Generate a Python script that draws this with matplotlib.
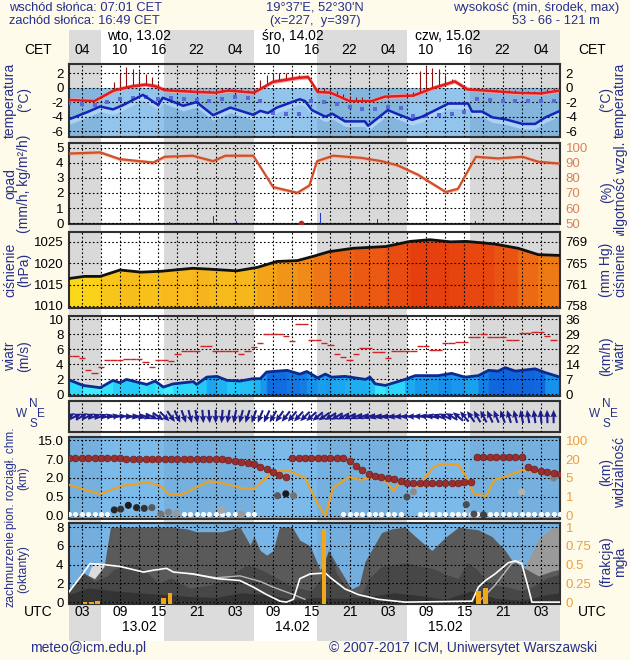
import numpy as np
import matplotlib
matplotlib.use('Agg')
import matplotlib.pyplot as plt
from matplotlib.colors import LinearSegmentedColormap, Normalize

plt.rcParams['font.family'] = ['Liberation Sans Narrow', 'Liberation Sans', 'DejaVu Sans']
plt.rcParams['font.size'] = 9

# time axis: hours from 13.02 00 UTC
nights = [(1, 6.02), (15.82, 30.02), (39.82, 54.02), (63.82, 78)]
cet_labels = ['04', '10', '16', '22'] * 3 + ['04']
utc_labels = ['03', '09', '15', '21'] * 3 + ['03']
day_names = ['wto, 13.02', 'śro, 14.02', 'czw, 15.02']
day_dates = ['13.02', '14.02', '15.02']

# temperature
temp_t = [0, 1, 5, 8, 11, 13, 14.5, 16, 21, 24, 26, 30, 33, 37, 38.5, 40, 42, 45, 48.5, 50.5,
          55, 58, 61.5, 63.5, 67, 71, 75, 78]
temp = [-1.7, -1.7, -1.85, -0.4, 0.2, 0.4, 0.2, -0.35, -0.6, -0.7, -0.4, -0.7, 0.8, 1.35, 1.45, -0.6,
        -0.7, -1.85, -1.85, -1.25, -1.1, -0.1, 0.85, -0.25, -0.45, -0.7, -0.8, -0.4]
dew_t = [0, 1.2, 3.8, 5.9, 7.9, 9.5, 12.6, 15, 15.7, 18.9, 21, 23.6, 26.3, 29.9, 31, 32.2, 33.6, 37.2,
         38, 39.1, 41.2, 42.3, 44.3, 47.4, 47.9, 51, 54.8, 56.4, 60.5, 63.6, 64.2, 65.8, 67.4, 69.4,
         72.1, 74.1, 75.7, 78]
dew = [-4.3, -4.3, -3.4, -2.6, -3.0, -2.4, -1.0, -2.4, -1.4, -2.5, -2.0, -3.8, -2.75, -3.75, -3.2, -3.5,
       -2.75, -1.6, -1.85, -3.1, -4.0, -3.6, -4.65, -4.65, -5.25, -3.1, -4.45, -4.0, -2.2, -2.2, -3.3,
       -3.3, -4.1, -4.35, -5.0, -5.0, -4.1, -3.2]
spike_t = list(range(8, 48)) + list(range(55, 78))
spike_top = [0.8, 1.9, 2.85, 2.6, 2.3, 1.9, 1.5, 0.6,
             -0.1, -0.1, -0.2, -0.2, -0.2, -0.3, -0.3, -0.3, -0.3, 0.0, -0.1, -0.2, -0.2, -0.3,
             0.0, 1.0, 1.8, 2.0, 2.0, 2.0, 1.9, 1.8,
             1.6, 0.9, 0.0, -0.1, -0.2, -0.5, -0.9, -1.2, -1.3, -1.3,
             -0.6, 2.3, 2.9, 2.7, 2.5, 1.8, 1.2,
             0.5, 0.0, -0.1, -0.1, -0.2, -0.2, -0.2, -0.3, -0.3, -0.3, -0.4, -0.4, -0.4, -0.3, -0.2, -0.1]
dot_t = list(range(1, 79, 2))
dot_v = [-2.1, -2.3, -2.4, -2.0, -1.6, -1.4, -1.3, -1.5, -1.4, -1.6, -1.7, -1.9, -1.5, -1.3, -1.4,
         -1.9, -3.5, -3.7, -3.6, -1.9, -2.0, -2.3, -2.7, -3.0, -2.9, -2.7, -2.8, -3.9, -3.9, -3.8,
         -3.6, -3.4, -1.6, -1.7, -1.8, -1.8, -1.9, -1.9, -1.8]

# precipitation / humidity
rh_t = [0, 0.9, 5.9, 9, 14.2, 16, 20.4, 23.6, 25.5, 29.9, 33, 36.8, 38.7, 39.9, 42.4, 46.8, 50, 52.5,
        55.7, 60.1, 62, 64.8, 68.3, 72.1, 74.6, 78]
rh = [96, 96, 96.8, 92.3, 90.1, 93.9, 94.6, 91, 94.6, 94.6, 73.9, 70.1, 75, 91, 94.6, 93.2, 91, 88.3,
      82.1, 70.6, 72.8, 93.9, 92.8, 93.9, 90.6, 89.4]
rain_t = [16.7, 23.6, 27.3, 40.5, 49.4, 64.8]
rain = [0.1, 0.5, 0.15, 0.7, 0.25, 0.15]

# pressure
p_t = [0.5, 3.4, 5.9, 9, 12.3, 15.4, 20.4, 23, 27.3, 30.5, 33.6, 36.8, 39.3, 41.8, 45.6, 50.7, 54.5,
       57.6, 60.8, 63.3, 67.7, 71.4, 74.6, 78.2]
p = [1016.3, 1016.9, 1016.9, 1018.4, 1017.9, 1018.1, 1018.8, 1018.6, 1018.2, 1019.0, 1020.4, 1020.6,
     1021.6, 1022.7, 1023.5, 1023.9, 1025.1, 1025.5, 1025.0, 1025.1, 1024.5, 1023.5, 1022.0, 1021.8]

# wind
ws_t = [0, 1.2, 3.2, 5.9, 7.9, 9, 10, 12.1, 13.2, 14.5, 15.8, 17.3, 20.5, 21, 22.6, 24.2, 25.8, 27.8,
        29.9, 31, 32, 35.2, 37.2, 38.3, 40, 41.2, 42.2, 44.3, 47.5, 48.2, 49, 50.6, 53.7, 55.3, 58.9,
        61, 63.1, 65.2, 66.8, 68.3, 69.4, 71, 74.1, 75.7, 78]
ws = [1.9, 1.87, 1.2, 0.9, 1.87, 1.56, 2.0, 1.56, 1.33, 1.78, 0.98, 1.4, 1.7, 1.33, 2.3, 2.4, 1.87,
      1.78, 2.1, 2.1, 2.98, 3.2, 2.7, 3.05, 2.2, 2.7, 2.3, 2.4, 2.0, 2.3, 1.42, 1.2, 2.0, 2.5, 2.5,
      2.8, 2.3, 2.5, 3.2, 3.1, 3.56, 3.1, 3.4, 2.9, 2.3]
gust_t = list(range(1, 78))
gust = [5.1, 5.1, 4.8, 3.2, 2.9, 3.7, 4.6, 4.6, 4.6, 4.75,
        4.75, 4.7, 4.3, 3.7, 4.6, 4.6, 4.5, 5.4, 5.8, 5.8,
        5.8, 6.4, 6.4, 5.8, 5.8, 5.8, 5.8, 5.3, 5.8, 6.3,
        6.8, 8.0, 8.0, 8.0, 7.8, 7.1, 9.3, 9.3, 7.2, 7.2,
        6.8, 6.6, 5.4, 5.0, 4.6, 5.4, 6.2, 6.2, 5.6, 5.6,
        4.8, 5.8, 5.8, 5.8, 5.8, 6.4, 6.4, 5.9, 5.9, 6.8,
        6.8, 7.0, 7.0, 7.6, 7.6, 8.0, 7.6, 7.6, 7.6, 7.2,
        7.2, 8.2, 8.2, 8.3, 8.3, 7.8, 7.2]
wdir_t = list(range(1, 78))
wdir = [240, 245, 240, 245, 250, 250, 255, 260, 265, 275, 280, 285, 290, 295, 305, 315, 325, 335, 340,
        345, 350, 355, 355, 0, 5, 10, 12, 15, 18, 20, 22, 25, 30, 35, 38, 40, 42, 45, 48, 50, 55, 58,
        60, 62, 65, 68, 70, 72, 75, 78, 80, 82, 85, 88, 90, 95, 100, 105, 110, 115, 120, 130, 140,
        145, 150, 152, 155, 158, 160, 163, 165, 168, 170, 172, 175, 178, 180]

# cloud heights (km) and visibility (km)
h_ticks = [0, 0.5, 2, 7, 15]
v_ticks = [0, 1, 5, 20, 100]
top_t = list(range(1, 79))
top_h = [7.3] * 9 + [7.1] * 10 + [7.0] * 6 + \
        [6.8, 6.6, 6.3, 6.0, 5.6, 5.0, 4.4, 3.6, 2.8, 2.3] + [7.4] * 9 + \
        [6.6, 5.2, 4.0, 3.0, 2.6, 2.3, 2.0, 1.9, 1.8] + [1.6] * 9 + [1.7, 1.7] + \
        [8.0] * 8 + [4.8, 4.3, 3.9, 3.5, 3.2, 3.0]
low_t = [8.1, 9.1, 10.3, 11.6, 12.8, 14, 15.4, 16.6, 17.8, 24.9, 28, 33.7, 35, 36.2, 54, 55, 63.3,
         64.5, 66, 72, 77]
low_h = [0.16, 0.18, 0.28, 0.22, 0.2, 0.22, 0.05, 0.1, 0.07, 0.15, 0.05, 0.6, 0.75, 0.6, 0.5, 0.9,
         0.3, 0.05, 0.03, 0.9, 2.0]
low_grey = [0.15, 0.2, 0.1, 0.15, 0.2, 0.35, 0.45, 0.5, 0.6, 0.65, 0.6, 0.35, 0.1, 0.45, 0.3, 0.55,
            0.3, 0.3, 0.25, 0.7, 0.5]
fog_dot_t = list(range(1, 8)) + list(range(19, 31)) + list(range(44, 54)) + list(range(56, 79))
fog_dot_h = 0.06
vis_t = [0.9, 5.9, 9.1, 13.4, 15.4, 16.6, 18.5, 22.9, 25.5, 28, 29.9, 33, 35.5, 38, 39.9, 41.2, 42.4,
         44.9, 46.8, 48.7, 50.6, 51.9, 53.1, 54.4, 55.7, 58.2, 59.5, 62, 63.3, 64.5, 66.4, 67.7, 69.6,
         72.1, 74.6, 78.2]
vis = [3.6, 1.6, 3.3, 4.1, 3.3, 1.6, 1.4, 4.3, 3.8, 2.9, 2.6, 10, 10.7, 5, 0.7, 0.0, 2.9, 5.8, 4.6,
       6.2, 4.6, 2.2, 4.6, 3.6, 3.3, 13.7, 16.3, 15.5, 6.2, 1.6, 1.2, 4.6, 6.5, 11.3, 9.2, 6.5]

# cloud cover (octants) and fog fraction
cc_t = [1, 3, 5, 6.5, 7.5, 10, 14, 17, 19.5, 21, 25, 27.8, 29.4, 30, 31, 32, 33, 34, 36, 37.2, 38.8,
        40.4, 41.7, 43, 45.3, 46.5, 47.4, 50, 51.6, 53.7, 55.8, 57.9, 60, 62.1, 65.2, 67.3, 69.4,
        70.4, 72.5, 74.6, 76.7, 78]
cc = [1.0, 3.2, 2.5, 3.8, 8.0, 8.0, 8.0, 8.0, 7.8, 7.5, 7.5, 8.0, 6.1, 7.0, 5.5, 5.0, 5.5, 8.0, 8.0,
      6.6, 6.0, 3.4, 5.5, 4.0, 1.4, 1.8, 4.3, 7.4, 7.8, 8.0, 6.7, 5.5, 6.9, 8.0, 7.7, 7.0, 5.5, 4.5,
      3.6, 2.8, 3.3, 3.5]
mid_t = [1, 3, 5, 7, 8, 10, 12, 13.5, 15, 17, 18.5, 20, 23, 25, 27, 29, 31, 33, 35, 37, 39, 40.5,
         41.7, 43, 45, 47, 48, 50, 52, 54, 56, 58, 60, 62, 63.5, 65, 66.5, 68, 70, 72, 74, 76, 78]
mid = [1.0, 3.2, 2.2, 2.8, 3.5, 4.0, 3.8, 3.0, 2.0, 2.6, 2.0, 1.5, 1.8, 2.2, 3.2, 4.0, 3.5, 2.8, 2.0,
       1.5, 1.2, 2.5, 5.5, 3.0, 1.2, 1.0, 2.5, 3.8, 4.0, 4.2, 3.8, 3.6, 3.0, 2.5, 4.2, 3.5, 2.2, 1.8,
       1.6, 1.2, 1.8, 2.6, 3.0]
lowc_t = [1, 4, 8, 12, 16, 20, 24, 28, 32, 36, 40, 44, 48, 52, 56, 60, 64, 68, 72, 76, 78]
lowc = [0.8, 1.5, 1.2, 1.0, 0.8, 0.6, 0.5, 1.0, 0.8, 0.3, 0.5, 0.4, 0.6, 1.0, 0.7, 0.3, 1.2, 0.4,
        0.2, 0.8, 1.0]
hi_t = [68, 70, 72.5, 74.6, 76.7, 78]
hi = [0, 2.0, 3.8, 6.7, 7.9, 8.0]
light_t = [3.5, 4.5, 5.5, 6.5, 7.2]
light = [2.0, 3.8, 4.2, 4.0, 3.0]
wline_t = [0.9, 2.7, 4.3, 6.4, 9, 12.7, 14.2, 16.3, 17.4, 20.5, 24.2, 27.8, 29.9, 32, 34.1, 35.1,
           36.2, 37.2, 38.8, 41.2, 42.2, 44.3, 46.4, 49.5, 53.7, 64.2, 65.2, 66.3, 67.8, 69.9, 71,
           72, 73, 73.6, 78]
wline = [1.0, 2.6, 4.1, 4.0, 3.8, 3.2, 3.4, 3.6, 3.2, 3.0, 2.5, 2.3, 1.6, 0.8, 0.1, 0.0, 0.3, 2.5,
         3.0, 3.1, 2.5, 1.4, 0.8, 0.3, 0.0, 0.1, 1.6, 2.3, 3.0, 4.2, 4.4, 4.1, 1.6, 0.0, 0.0]
gline_t = [20, 24.2, 27.8, 31, 33, 36.2, 38, np.nan, 65.2, 67.8, 70.4, 72]
gline = [3.0, 2.6, 2.8, 2.2, 1.6, 0.8, 0.3, np.nan, 0.0, 1.8, 4.1, 4.5]
fog_t = [3.5, 4.5, 5.5, 15.8, 16.8, 41.0, 65.2, 66.3]
fog = [0.03, 0.03, 0.04, 0.08, 0.15, 1.0, 0.17, 0.21]

# ---------------------------------------------------------------
BG = '#fffbea'
NAVY = '#26308c'
NIGHT = '#d9d9d9'
ORANGE = '#e8a040'
T0, T1 = 1, 78
grid_hours = np.arange(3, 78, 3)

fig = plt.figure(figsize=(6.3, 6.6), dpi=100, facecolor=BG)


def px_axes(x0, y0, x1, y1):
    return fig.add_axes([x0 / 630, 1 - y1 / 660, (x1 - x0) / 630, (y1 - y0) / 660])


def ftext(x, y, s, **kw):
    kw.setdefault('va', 'center')
    fig.text(x / 630, 1 - y / 660, s, **kw)


def panel(y0, y1, ylim, ticks=(), labels=(), rlabels=(), rcolor='black', bg='white',
          night=(NIGHT, 1.0)):
    ax = px_axes(69, y0, 560, y1)
    ax.set_facecolor(bg)
    ax.set_xlim(T0, T1)
    ax.set_ylim(*ylim)
    for a, b in nights:
        ax.axvspan(a, b, color=night[0], alpha=night[1], lw=0, zorder=0)
    ax.set_xticks(grid_hours)
    ax.set_yticks(ticks)
    ax.set_yticklabels(labels)
    ax.grid(True, color='black', ls=(0, (1.5, 2)), lw=0.8)
    ax.set_axisbelow(False)
    ax.tick_params(length=0, labelbottom=False, labelsize=9.5, pad=4)
    for s in ax.spines.values():
        s.set_linewidth(1.5)
        s.set_color('#303030')
    if len(rlabels):
        r = ax.twinx()
        r.set_ylim(*ylim)
        r.set_yticks(ticks)
        r.set_yticklabels(rlabels, color=rcolor)
        r.tick_params(length=0, labelsize=9.5, pad=4)
        for s in r.spines.values():
            s.set_visible(False)
    return ax


def coloured_fill(ax, xs, ys, floor, cmap, norm):
    for i in range(len(xs) - 1):
        c = cmap(norm((ys[i] + ys[i + 1]) / 2))
        ax.fill_between(xs[i:i + 2], floor, ys[i:i + 2], facecolor=c, edgecolor=c, lw=0.6, zorder=1)


# background column with day / night blocks and time strips
bg = px_axes(69, 30, 560, 641)
bg.set_xlim(T0, T1)
bg.set_ylim(641, 30)
bg.set_facecolor('white')
for a, b in nights:
    bg.axvspan(a, b, color='#dcdcdc', lw=0)
bg.set_xticks([])
bg.set_yticks([])
for s in bg.spines.values():
    s.set_visible(False)
lab_t = np.arange(3, 78, 6)
for t, c, u in zip(lab_t, cet_labels, utc_labels):
    bg.text(t, 50.5, c, ha='center', va='center', fontsize=10)
    bg.text(t, 612, u, ha='center', va='center', fontsize=10)
for t, s in zip([7, 31.2, 55.2], day_names):
    bg.text(t, 36, s, ha='left', va='center', fontsize=10)
for t, s in zip([12, 36, 60], day_dates):
    bg.text(t, 627, s, ha='center', va='center', fontsize=10)

# temperature
ax = panel(64, 137, (-6.8, 3.25), [2, 0, -2, -4, -6], ['2', '0', '-2', '-4', '-6'],
           ['2', '0', '-2', '-4', '-6'])
ax.axhspan(-6.8, 0, color='#4a9de0', alpha=0.6, lw=0, zorder=0.5)
ax.fill_between(dew_t, np.array(dew) - 0.7, dew, color='#b6daf8', alpha=0.8, lw=0, zorder=1)
ax.fill_between(temp_t, np.array(temp) - 0.25, np.array(temp) + 0.35, color='#f5a0a0', lw=0, zorder=1)
base = np.interp(spike_t, temp_t, temp)
ax.vlines(spike_t, base, np.maximum(base, spike_top), color='#8a1010', lw=0.8, zorder=2.6)
ax.scatter(dot_t, dot_v, s=5, marker='s', color='#5a68d8', lw=0, zorder=3)
ax.plot(temp_t, temp, color='#e01c1c', lw=1.8, zorder=3)
ax.plot(dew_t, dew, color='#1424b8', lw=1.8, zorder=3)

# precipitation and humidity
ax = panel(143, 224, (-0.05, 5.3), [0, 1, 2, 3, 4, 5], ['0', '1', '2', '3', '4', '5'],
           ['50', '60', '70', '80', '90', '100'], rcolor='#d98060')
rh_s = (np.array(rh) - 50) / 10
ax.fill_between(rh_t, rh_s - 0.12, rh_s + 0.12, color='#f4b090', alpha=0.7, lw=0, zorder=1)
ax.plot(rh_t, rh_s, color='#d0502c', lw=1.6, zorder=3)
ax.bar(rain_t, rain, width=0.18, color='#1838c8', zorder=3)
ax.plot([37.4], [0.02], 'o', ms=3, color='#c02020', zorder=4)

# pressure
ax = panel(232, 308, (1009.5, 1027.3), [1010, 1015, 1020, 1025], ['1010', '1015', '1020', '1025'],
           ['758', '761', '765', '769'])
pcmap = LinearSegmentedColormap.from_list('p', ['#fbd81a', '#f6b41c', '#f08c18', '#ec6014', '#e63c0e'])
coloured_fill(ax, p_t, p, 1009.5, pcmap, Normalize(1016.5, 1025.5))
ax.plot(p_t, p, color='#101010', lw=2, zorder=3)

# wind
ax = panel(316, 396, (-0.2, 10.4), [0, 2, 4, 6, 8, 10], ['0', '2', '4', '6', '8', '10'],
           ['0', '7', '14', '22', '29', '36'])
wcmap = LinearSegmentedColormap.from_list('w', ['#3ceeff', '#22c4f6', '#1898ec', '#1064dc'])
coloured_fill(ax, ws_t, ws, -0.2, wcmap, Normalize(1.2, 3.2))
ax.plot(ws_t, ws, color='#0c2a90', lw=2, zorder=3)
gt = np.array(gust_t)
ax.hlines(gust, gt - 0.5, gt + 0.5, color='#d42020', lw=1, zorder=3)

# wind direction arrows
ax = panel(401, 432, (0, 1))
ang = np.radians(270 - np.array(wdir))
ax.quiver(wdir_t, np.full(len(wdir_t), 0.5), np.cos(ang), np.sin(ang), angles='uv', pivot='middle',
          scale_units='inches', scale=7.5, width=0.0042, headwidth=3.2, headlength=3.6,
          headaxislength=3.2, color='#1c1c8c', zorder=3)

# cloud heights and visibility
ax = panel(437, 519, (-0.16, 4.16), [0, 1, 2, 3, 4], ['0.0', '0.5', '2.0', '7.0', '15.0'],
           ['0', '1', '5', '20', '100'], rcolor=ORANGE, bg='#7cbaea', night=('#000000', 0.05))
hpos = lambda h: np.interp(h, h_ticks, [0, 1, 2, 3, 4])
ax.plot(vis_t, np.interp(vis, v_ticks, [0, 1, 2, 3, 4]), color='#f0a020', lw=1.5, zorder=3)
ax.scatter(fog_dot_t, hpos(np.full(len(fog_dot_t), fog_dot_h)), s=14, color='#f4f8ff', lw=0, zorder=4)
ax.scatter(low_t, hpos(low_h), s=26, c=[str(g) for g in low_grey], lw=0, zorder=4)
ax.scatter(top_t, hpos(top_h), s=24, color='#9b2d2d', edgecolor='#6a2020', lw=0.5, zorder=4)

# cloud cover and fog
ax = panel(523, 604, (-0.2, 8.43), [0, 2, 4, 6, 8], ['0', '2', '4', '6', '8'],
           ['0', '0.25', '0.5', '0.75', '1'], rcolor=ORANGE, bg='#78b6e8', night=('#000000', 0.04))
ax.fill_between(hi_t, 0, hi, color='#9a9a9a', lw=0, zorder=1)
ax.fill_between(light_t, 0, light, color='#dcdcdc', lw=0, zorder=1)
ax.fill_between(cc_t, 0, cc, color='#5a5a5a', lw=0, zorder=1.1)
ax.fill_between(mid_t, 0, mid, color='#474747', lw=0, zorder=1.2)
ax.fill_between(lowc_t, 0, lowc, color='#333333', lw=0, zorder=1.3)
ax.plot(gline_t, gline, color='#b8b8b8', lw=1, zorder=3)
ax.plot(wline_t, wline, color='white', lw=1.2, zorder=3)
ax.bar(fog_t, np.array(fog) * 8, width=0.7, bottom=-0.2, color='#f0a818', zorder=3.5)

# side labels
left = [(100, 'temperatura\n(°C)', 10), (184, 'opad\n(mm/h, kg/m²/h)', 10), (270, 'ciśnienie\n(hPa)', 10),
        (356, 'wiatr\n(m/s)', 10), (478, 'pion. rozciągł. chm.\n(km)', 8.5),
        (569, 'zachmurzenie\n(oktanty)', 8.8)]
right = [(100, '(°C)\ntemperatura'), (270, '(mm Hg)\nciśnienie'),
         (356, '(km/h)\nwiatr'), (472, '(km)\nwidzialność'), (562, '(frakcja)\nmgła')]
for y, s, fs in left:
    ftext(17, y, s, rotation=90, ha='center', color=NAVY, fontsize=fs, linespacing=1.0,
          multialignment='center')
for y, s in right:
    ftext(613, y, s, rotation=90, ha='center', color=NAVY, fontsize=10, linespacing=1.0,
          multialignment='center')
# humidity label is cut off at the panel top, as in the original
hum = px_axes(598, 143, 630, 236)
hum.axis('off')
hum.text(0.5, 0.47, '(%)\nwilgotność wzgl.', rotation=90, ha='center', va='center', color=NAVY,
         fontsize=10, linespacing=1.0, multialignment='center', transform=hum.transAxes, clip_on=True)

# compass marks
for x in (30, 603):
    ftext(x - 8, 414, 'W', ha='center', color=NAVY, fontsize=8.5)
    ftext(x + 3, 404, 'N', ha='center', color=NAVY, fontsize=8.5)
    ftext(x + 3, 424, 'S', ha='center', color=NAVY, fontsize=8.5)
    ftext(x + 11, 414, 'E', ha='center', color=NAVY, fontsize=8.5)

# header, CET / UTC, footer
HF = 9.3
ftext(9, 8, 'wschód słońca: 07:01 CET', ha='left', color=NAVY, fontsize=HF)
ftext(9, 21, 'zachód słońca: 16:49 CET', ha='left', color=NAVY, fontsize=HF)
ftext(315, 8, "19°37'E, 52°30'N", ha='center', color=NAVY, fontsize=HF)
ftext(315, 21, '(x=227,  y=397)', ha='center', color=NAVY, fontsize=HF)
ftext(619, 8, 'wysokość (min, środek, max)', ha='right', color=NAVY, fontsize=HF)
ftext(556, 21, '53 - 66 - 121 m', ha='center', color=NAVY, fontsize=HF)
for x in (38, 592):
    ftext(x, 50.5, 'CET', ha='center', fontsize=10)
    ftext(x, 612, 'UTC', ha='center', fontsize=10)
ftext(30, 648, 'meteo@icm.edu.pl', ha='left', color=NAVY, fontsize=10)
ftext(597, 648, '© 2007-2017 ICM, Uniwersytet Warszawski', ha='right', color=NAVY, fontsize=10)

fig.savefig('out.png', dpi=100, facecolor=BG)
